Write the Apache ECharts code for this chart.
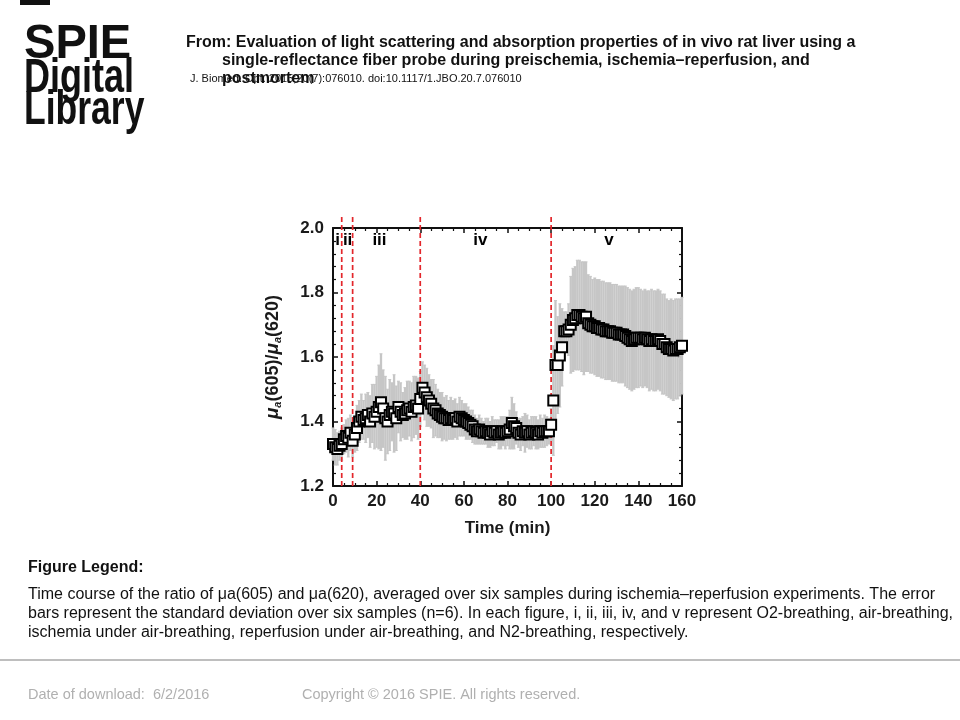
<!DOCTYPE html>
<html><head><meta charset="utf-8">
<script src="https://cdn.jsdelivr.net/npm/echarts@6/dist/echarts.min.js"></script>
<style>html,body{margin:0;padding:0;background:#fff}#c{width:960px;height:720px}</style>
</head><body><div id="c"></div>
<script>
// ---- data ----
const times = [];
for (let t = 0; t <= 160; t++) times.push(t);

const means = [
 1.33,1.32,1.315,1.325,1.33,1.345,1.355,1.35,1.365,1.34,
 1.36,1.38,1.40,1.415,1.405,1.41,1.42,1.40,1.425,1.415,
 1.43,1.445,1.46,1.44,1.41,1.40,1.42,1.43,1.425,1.41,
 1.445,1.43,1.42,1.425,1.435,1.44,1.43,1.445,1.45,1.44,
 1.47,1.505,1.49,1.475,1.465,1.455,1.44,1.435,1.425,1.42,
 1.415,1.41,1.41,1.405,1.41,1.405,1.41,1.40,1.415,1.41,
 1.405,1.40,1.395,1.39,1.385,1.375,1.37,1.375,1.37,1.365,
 1.37,1.365,1.36,1.37,1.365,1.37,1.36,1.365,1.37,1.365,
 1.37,1.375,1.395,1.385,1.38,1.365,1.36,1.37,1.365,1.37,
 1.36,1.365,1.37,1.365,1.36,1.37,1.365,1.37,1.37,1.37,
 1.39,1.465,1.575,1.575,1.605,1.63,1.68,1.68,1.685,1.70,
 1.715,1.72,1.73,1.73,1.725,1.72,1.725,1.705,1.70,1.695,
 1.695,1.69,1.69,1.685,1.685,1.68,1.68,1.68,1.675,1.675,
 1.675,1.67,1.67,1.67,1.665,1.66,1.655,1.65,1.655,1.66,
 1.66,1.66,1.655,1.66,1.655,1.65,1.655,1.65,1.65,1.655,
 1.65,1.64,1.64,1.63,1.625,1.625,1.62,1.625,1.625,1.63,
 1.635
];

const sds = [
 0.05,0.055,0.05,0.045,0.05,0.045,0.05,0.06,0.055,0.05,
 0.055,0.07,0.065,0.07,0.06,0.075,0.07,0.08,0.09,0.10,
 0.11,0.13,0.15,0.12,0.13,0.10,0.11,0.09,0.12,0.10,
 0.08,0.09,0.07,0.08,0.09,0.085,0.09,0.095,0.09,0.095,
 0.085,0.08,0.085,0.09,0.08,0.075,0.09,0.08,0.075,0.07,
 0.075,0.065,0.07,0.06,0.065,0.06,0.06,0.055,0.06,0.055,
 0.05,0.055,0.05,0.045,0.05,0.045,0.04,0.045,0.04,0.035,
 0.04,0.045,0.04,0.045,0.04,0.035,0.045,0.05,0.045,0.05,
 0.045,0.06,0.08,0.07,0.05,0.045,0.05,0.045,0.06,0.05,
 0.045,0.05,0.045,0.05,0.045,0.05,0.045,0.05,0.045,0.04,
 0.05,0.17,0.2,0.15,0.16,0.12,0.06,0.06,0.08,0.15,
 0.16,0.16,0.17,0.17,0.17,0.175,0.17,0.15,0.15,0.145,
 0.15,0.15,0.15,0.15,0.15,0.15,0.15,0.15,0.15,0.15,
 0.15,0.15,0.15,0.15,0.155,0.155,0.155,0.155,0.155,0.155,
 0.155,0.15,0.15,0.15,0.15,0.155,0.155,0.155,0.155,0.155,
 0.155,0.155,0.155,0.15,0.15,0.155,0.155,0.155,0.155,0.15,
 0.15
];

const phaseBoundaries = [4, 9, 40, 100];
const phaseLabels = ['i', 'ii', 'iii', 'iv', 'v'];
const phaseLabelX = [2.1, 6.7, 21.3, 67.6, 126.5];
const phaseLabelY = 1.962;

// ---- chart ----
const chart = echarts.init(document.getElementById('c'), null, {renderer: 'canvas'});
const F = 'Liberation Sans, Arial, sans-serif';

const errData = times.map((t, i) => [t, means[i], sds[i]]);
const ptData = times.map((t, i) => [t, means[i]]);

const axisCommon = {
  axisLine: {show: true, onZero: false, lineStyle: {color: '#111', width: 2}},
  splitLine: {show: false},
};
const tickStyle = {show: true, inside: true, length: 5, lineStyle: {color: '#111', width: 1.5}};

const option = {
  backgroundColor: '#fff',
  animation: false,
  grid: {left: 333, top: 228, right: 278, bottom: 234},
  xAxis: [
    Object.assign({
      type: 'value', min: 0, max: 160, interval: 20, position: 'bottom',
      axisTick: tickStyle,
      minorTick: {show: true, splitNumber: 4, length: 3, lineStyle: {color: '#111', width: 1.2}},
      axisLabel: {color: '#1a1a1a', fontFamily: F, fontWeight: 'bold', fontSize: 17, margin: 7},
      name: 'Time (min)', nameLocation: 'middle', nameGap: 34,
      nameTextStyle: {color: '#1a1a1a', fontFamily: F, fontWeight: 'bold', fontSize: 17}
    }, axisCommon),
    Object.assign({
      type: 'value', min: 0, max: 160, interval: 20, position: 'top',
      axisTick: tickStyle,
      minorTick: {show: true, splitNumber: 4, length: 3, lineStyle: {color: '#111', width: 1.2}},
      axisLabel: {show: false}
    }, axisCommon)
  ],
  yAxis: [
    Object.assign({
      type: 'value', min: 1.2, max: 2.0, interval: 0.2, position: 'left',
      axisTick: tickStyle,
      minorTick: {show: true, splitNumber: 5, length: 3, lineStyle: {color: '#111', width: 1.2}},
      axisLabel: {color: '#1a1a1a', fontFamily: F, fontWeight: 'bold', fontSize: 17, margin: 9,
        formatter: v => v.toFixed(1)},
      name: '{i|μ}{s|a}(605)/{i|μ}{s|a}(620)', nameLocation: 'middle', nameGap: 50, nameRotate: 90,
      nameTextStyle: {color: '#1a1a1a', fontFamily: F, fontWeight: 'bold', fontSize: 18,
        rich: {
          i: {fontFamily: F, fontStyle: 'italic', fontWeight: 'bold', fontSize: 19, color: '#1a1a1a'},
          s: {fontFamily: F, fontStyle: 'italic', fontWeight: 'bold', fontSize: 11, color: '#1a1a1a', verticalAlign: 'bottom', padding: [9, 0, 0, 0]}
        }}
    }, axisCommon),
    Object.assign({
      type: 'value', min: 1.2, max: 2.0, interval: 0.2, position: 'right',
      axisTick: tickStyle,
      minorTick: {show: true, splitNumber: 5, length: 3, lineStyle: {color: '#111', width: 1.2}},
      axisLabel: {show: false}
    }, axisCommon)
  ],
  series: [
    {
      type: 'custom', name: 'sd', xAxisIndex: 0, yAxisIndex: 0, z: 1,
      data: errData, encode: {x: 0, y: 1},
      renderItem: function (params, api) {
        const x = api.value(0), m = api.value(1), s = api.value(2);
        const lo = api.coord([x, m - s]);
        const hi = api.coord([x, m + s]);
        const st = {stroke: '#c6c6c6', lineWidth: 2.3};
        return {
          type: 'group', children: [
            {type: 'line', shape: {x1: lo[0], y1: lo[1], x2: hi[0], y2: hi[1]}, style: st},
            {type: 'line', shape: {x1: lo[0] - 1.5, y1: lo[1], x2: lo[0] + 1.5, y2: lo[1]}, style: {stroke: '#c6c6c6', lineWidth: 1}},
            {type: 'line', shape: {x1: hi[0] - 1.5, y1: hi[1], x2: hi[0] + 1.5, y2: hi[1]}, style: {stroke: '#c6c6c6', lineWidth: 1}}
          ]
        };
      }
    },
    {
      type: 'custom', name: 'phase boundaries', xAxisIndex: 0, yAxisIndex: 0, z: 2,
      clip: false, silent: true,
      data: phaseBoundaries.map(v => [v]), encode: {x: 0},
      renderItem: function (params, api) {
        const v = api.value(0);
        const b = api.coord([v, 1.2]);
        const t = api.coord([v, 2.04]);
        return {type: 'line', shape: {x1: b[0], y1: b[1], x2: t[0], y2: t[1]},
          style: {stroke: '#e3262b', lineWidth: 1.7, lineDash: [5, 3]}};
      }
    },
    {
      type: 'scatter', name: 'ratio', xAxisIndex: 0, yAxisIndex: 0, z: 3,
      data: ptData, symbol: 'rect', symbolSize: 10,
      itemStyle: {color: '#fff', borderColor: '#000', borderWidth: 2, opacity: 1}
    },
    {
      type: 'custom', name: 'phases', xAxisIndex: 0, yAxisIndex: 0, z: 5,
      clip: false, silent: true,
      data: phaseLabelX.map((x, i) => [x, phaseLabelY, i]), encode: {x: 0, y: 1},
      renderItem: function (params, api) {
        const p = api.coord([api.value(0), api.value(1)]);
        return {type: 'text', x: p[0], y: p[1],
          style: {text: phaseLabels[params.dataIndex], fill: '#000', align: 'center', verticalAlign: 'middle',
            font: 'bold 17px ' + F}};
      }
    }
  ],
  graphic: [
    {type: 'rect', left: 20, top: 0, shape: {width: 30, height: 5}, style: {fill: '#111'}},
    {type: 'text', left: 24, top: 21, style: {text: 'SPIE', font: 'bold 48px ' + F, fill: '#111'}, scaleX: 0.98},
    {type: 'text', left: 24, top: 55, style: {text: 'Digital', font: 'bold 48px ' + F, fill: '#111'}, scaleX: 0.75},
    {type: 'text', left: 24, top: 87, style: {text: 'Library', font: 'bold 48px ' + F, fill: '#111'}, scaleX: 0.74},
    {type: 'text', left: 186, top: 35, style: {text: 'From: Evaluation of light scattering and absorption properties of in vivo rat liver using a', font: 'bold 16px ' + F, fill: '#111'}},
    {type: 'text', left: 222, top: 53, style: {text: 'single-reflectance fiber probe during preischemia, ischemia–reperfusion, and', font: 'bold 16px ' + F, fill: '#111'}},
    {type: 'text', left: 222, top: 71, style: {text: 'postmortem', font: 'bold 16px ' + F, fill: '#111'}},
    {type: 'text', left: 190, top: 73, style: {text: 'J. Biomed. Opt. 2015;20(7):076010. doi:10.1117/1.JBO.20.7.076010', font: '11px ' + F, fill: '#111'}},
    {type: 'text', left: 28, top: 560, style: {text: 'Figure Legend:', font: 'bold 16px ' + F, fill: '#111'}},
    {type: 'text', left: 28, top: 587, style: {text: 'Time course of the ratio of μa(605) and μa(620), averaged over six samples during ischemia–reperfusion experiments. The error', font: '16px ' + F, fill: '#111'}},
    {type: 'text', left: 28, top: 606, style: {text: 'bars represent the standard deviation over six samples (n=6). In each figure, i, ii, iii, iv, and v represent O2-breathing, air-breathing,', font: '16px ' + F, fill: '#111'}},
    {type: 'text', left: 28, top: 625, style: {text: 'ischemia under air-breathing, reperfusion under air-breathing, and N2-breathing, respectively.', font: '16px ' + F, fill: '#111'}},
    {type: 'line', shape: {x1: 0, y1: 660, x2: 960, y2: 660}, style: {stroke: '#a8a8a8', lineWidth: 1.5}},
    {type: 'text', left: 28, top: 687, style: {text: 'Date of download:  6/2/2016', font: '14.5px ' + F, fill: '#b0b0b0'}},
    {type: 'text', left: 302, top: 687, style: {text: 'Copyright © 2016 SPIE. All rights reserved.', font: '14.5px ' + F, fill: '#b0b0b0'}}
  ]
};
chart.setOption(option);
</script>
</body></html>
